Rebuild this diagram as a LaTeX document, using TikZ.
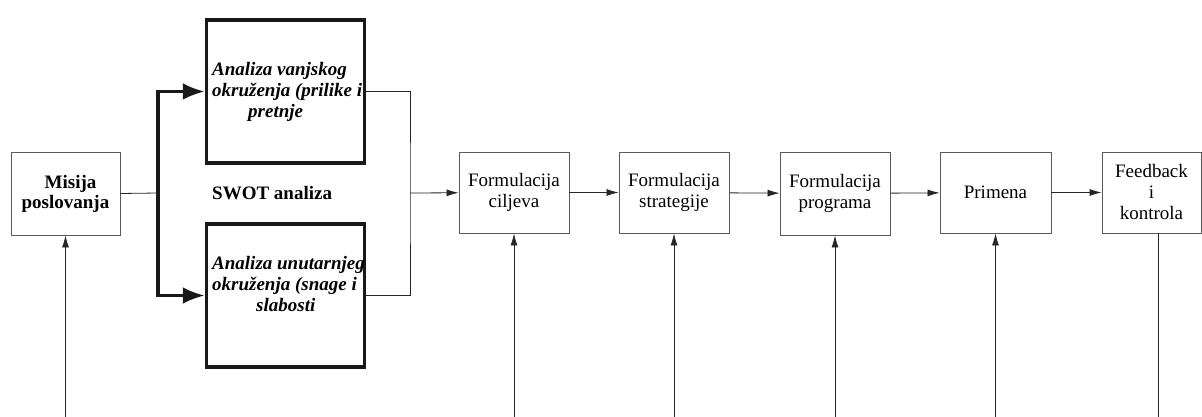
\documentclass[tikz,border=0pt]{standalone}
\usepackage{fontspec}
\setmainfont{Liberation Serif}
\usetikzlibrary{arrows.meta}
\tikzset{
  blok/.style={draw=black!65, line width=0.9pt, minimum width=110pt, minimum height=81pt,
    inner sep=0pt, align=center, font=\fontsize{19}{21}\selectfont},
  swot/.style={draw=black!90, line width=3.5pt, minimum width=158pt, minimum height=143pt, inner sep=0pt},
  swottxt/.style={align=left, inner sep=0pt, anchor=north west, font=\fontsize{19}{21}\selectfont\bfseries\itshape},
  linija/.style={line width=0.8pt, black!85},
  tanka/.style={linija, -{Latex[length=12pt,width=7pt]}},
  debela/.style={line width=3.5pt, black!90, -{Latex[length=22pt,width=17pt]}},
}
\begin{document}
\begin{tikzpicture}[x=1pt,y=-1pt]
            \useasboundingbox (0,0) rectangle (1202,417);
            \node[blok, minimum width=109pt, minimum height=83pt, font=\fontsize{19}{20}\selectfont\bfseries] (mis) at (65.5,193.5) {\hspace*{10pt}Misija\\poslovanja};
            \node[swot] (vanj) at (285.5,91.5) {};
            \node[swot] (unut) at (285.5,295.5) {};
            \node[swottxt] (vanjtxt) at (212,62) {Analiza vanjskog\\okruženja (prilike i\\\hspace*{36pt}pretnje};
            \node[swottxt] (unuttxt) at (212,256) {Analiza unutarnjeg\\okruženja (snage i\\\hspace*{44pt}slabosti};
            \node[anchor=base west, inner sep=0pt, font=\fontsize{19}{21}\selectfont\bfseries] (swotl) at (212,199) {SWOT analiza};
            \node[blok] (cilj) at (514,192.5) {Formulacija\\ciljeva};
            \node[blok] (strat) at (674,192.5) {Formulacija\\strategije};
            \node[blok, minimum height=83pt] (prog) at (835,193.5) {Formulacija\\programa};
            \node[blok, minimum width=111pt] (prim) at (995.5,192.5) {Primena};
            \node[blok, minimum width=99pt] (feed) at (1151.5,192.5) {Feedback\\i\\kontrola};
            \coordinate (jn) at (158,193);
            \coordinate (mrg) at (410,193);
            \coordinate (bot) at (0,417);
            \coordinate (fb) at (1158,417);
            % ulaz u SWOT
            \draw[linija] (mis.east) -- (jn);
            \draw[debela] (jn) |- (vanj.west);
            \draw[debela] (jn) |- (unut.west);
            \draw[linija] (vanj.east) -| (mrg) |- (unut.east);
            % glavni tok
            \draw[tanka] (mrg) -- (cilj);
            \draw[tanka] (cilj) -- (strat);
            \draw[tanka] (strat) -- (prog);
            \draw[tanka] (prog) -- (prim);
            \draw[tanka] (prim) -- (feed);
            % povratne veze odozdo
            \foreach \n in {mis,cilj,strat,prog,prim}
              \draw[tanka] (\n.south |- bot) -- (\n.south);
            \draw[linija] (feed.south -| fb) -- (fb);
        \end{tikzpicture}
\end{document}
